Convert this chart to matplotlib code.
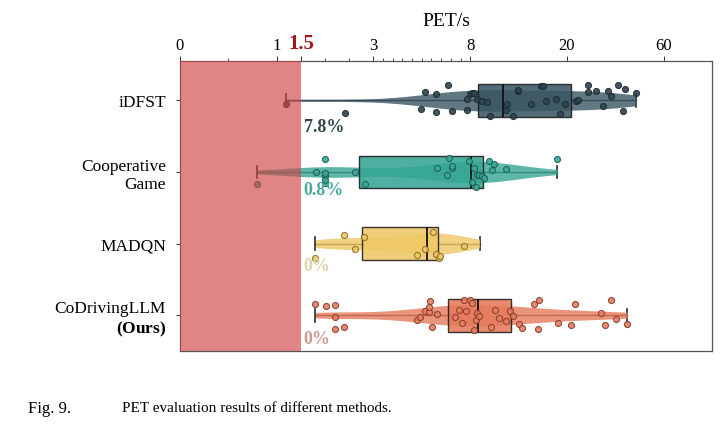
import numpy as np
import matplotlib.pyplot as plt
from matplotlib.ticker import FixedLocator

plt.rcParams['font.family'] = ['Liberation Serif', 'DejaVu Serif']
plt.rcParams['mathtext.fontset'] = 'custom'
plt.rcParams['mathtext.rm'] = 'Liberation Serif'
plt.rcParams['mathtext.bf'] = 'Liberation Serif:bold'

methods = ['iDFST', 'Cooperative\nGame', 'MADQN', 'CoDrivingLLM\n$\\mathbf{(Ours)}$']
pct_labels = ['7.8%', '0.8%', '0%', '0%']

# PET samples (s)
pet_idfst = [1.19, 2.42, 5.45, 5.66, 6.23, 6.23, 6.85, 7.06, 7.84, 7.84, 8.0, 8.25, 8.5,
             8.9, 9.5, 10.1, 10.5, 12.4, 12.6, 13.25, 13.9, 13.9, 15.5, 16.75, 17.0,
             17.4, 18.6, 19.1, 19.75, 23.75, 24.6, 28.75, 28.75, 32.1, 35.0, 37.1,
             38.3, 41.25, 43.3, 44.2, 48.75]
pet_coop = [0.80, 1.81, 2.0, 2.0, 2.0, 2.0, 2.0, 2.61, 2.82, 6.28, 6.8, 6.89, 7.06,
            7.06, 7.93, 8.25, 8.47, 8.66, 8.88, 9.08, 9.5, 9.71, 10.34, 10.66,
            10.96, 12.4, 18.8]
pet_madqn = [1.80, 2.40, 2.61, 2.81, 5.24, 5.67, 6.06, 6.23, 6.37, 6.45, 7.67]
pet_ours = [1.80, 2.02, 2.21, 2.21, 2.21, 2.40, 5.24, 5.41, 5.67, 5.85, 5.85, 5.93,
            6.02, 6.28, 7.23, 7.41, 7.58, 7.67, 7.76, 8.03, 8.25, 8.47, 8.66, 8.88,
            9.09, 10.53, 11.08, 11.59, 12.42, 12.97, 13.25, 14.09, 14.41, 15.97,
            16.38, 16.59, 18.88, 21.8, 23.2, 34.3, 35.7, 38.2, 40.3, 45.0]
samples = [pet_idfst, pet_coop, pet_madqn, pet_ours]

# box statistics
q1s = [9.0, 2.71, 2.76, 6.85]
meds = [12.1, 8.07, 5.76, 8.96]
q3s = [21.7, 9.59, 6.32, 13.04]
los = [1.19, 0.80, 1.80, 1.80]
his = [48.75, 18.8, 9.16, 45.0]

threshold = 1.5

box_colors = ['#3a5663', '#35a593', '#eec766', '#e77a5b']
point_face = ['#2e444f', '#3aa898', '#eec766', '#e57f60']
point_edge = ['#1d2b32', '#1c5e55', '#8d6d22', '#8a3b2b']
pct_colors = ['#2f4650', '#4aa99b', '#ddd6a8', '#c99a96']

# piecewise axis: 0,1,3,8,20,60 equally spaced
breaks = np.array([0, 1, 3, 8, 20, 60, 100], dtype=float)
steps = np.arange(len(breaks), dtype=float)


def fwd(x):
    return np.interp(x, breaks, steps)


def inv(t):
    return np.interp(t, steps, breaks)


fig = plt.figure(figsize=(7.23, 4.39), dpi=100)
ax = fig.add_axes([180 / 723, 1 - 352 / 439, 532 / 723, 290 / 439])
ax.set_xscale('function', functions=(fwd, inv))

pos = np.arange(len(methods))
stats = []
for i in range(len(methods)):
    stats.append(dict(med=meds[i], q1=q1s[i], q3=q3s[i], whislo=los[i], whishi=his[i], fliers=[]))

bp = ax.bxp(stats, positions=pos, orientation='horizontal', widths=0.46, patch_artist=True,
            showfliers=False, capwidths=0.18)
for i, b in enumerate(bp['boxes']):
    b.set_facecolor(box_colors[i])
    b.set_alpha(0.88)
    b.set_edgecolor('#1a1a1a')
    b.set_linewidth(1.0)
    b.set_zorder(3)
for w in bp['whiskers']:
    w.set_color('#2a2a2a')
    w.set_linewidth(1.0)
    w.set_zorder(1)
for c in bp['caps']:
    c.set_color('#2a2a2a')
    c.set_linewidth(1.2)
    c.set_zorder(1)
for m in bp['medians']:
    m.set_color('#111111')
    m.set_linewidth(1.3)
    m.set_zorder(3.5)

# violins computed in the axis space
for i, vals in enumerate(samples):
    t = fwd(np.array(vals))
    grid = np.linspace(fwd(los[i]), fwd(his[i]), 300)
    bw = 1.06 * t.std() * len(t) ** (-0.2)
    dens = np.exp(-0.5 * ((grid[:, None] - t[None, :]) / bw) ** 2).sum(axis=1)
    dens = dens / dens.max() * 0.15
    ax.fill_between(inv(grid), i - dens, i + dens, color=box_colors[i], alpha=0.8,
                    lw=0, zorder=2)

# jittered points
rng = np.random.default_rng(7)
for i, vals in enumerate(samples):
    jit = rng.uniform(-0.22, 0.22, len(vals))
    ax.scatter(vals, i + jit, s=19, facecolor=point_face[i], edgecolor=point_edge[i],
               linewidth=0.8, alpha=0.9, zorder=4)

ax.axvspan(0, threshold, color='#d04444', alpha=0.65, lw=0, zorder=5)

pct_dy = [0.37, 0.25, 0.3, 0.32]
for i, lab in enumerate(pct_labels):
    ax.text(1.56, i + pct_dy[i], lab, ha='left', va='center', fontsize=13,
            fontweight='bold', color=pct_colors[i], zorder=6)

ax.set_xlim(0, 80)
ax.set_ylim(3.5, -0.55)
ax.xaxis.tick_top()
ax.xaxis.set_label_position('top')
ax.xaxis.set_major_locator(FixedLocator([0, 1, 1.5, 3, 8, 20, 60]))
ax.xaxis.set_minor_locator(FixedLocator([0.5, 2, 2.5] + list(np.arange(3.5, 8, 0.5))))
ax.set_xticklabels(['0', '1', '1.5', '3', '8', '20', '60'])
ax.tick_params(axis='x', which='major', length=3.5, width=0.7, pad=2, colors='#333333',
               labelcolor='black', labelsize=12)
ax.tick_params(axis='x', which='minor', length=2.5, width=0.6, colors='#333333')
for lab in ax.get_xticklabels():
    if lab.get_text() == '1.5':
        lab.set_fontsize(15)
        lab.set_fontweight('bold')
        lab.set_color('#a3161c')
ax.set_xlabel('PET/s', fontsize=14, labelpad=6)

ax.set_yticks(pos)
ax.set_yticklabels(methods, fontsize=12.5)
ax.tick_params(axis='y', length=3, width=0.7, pad=7, colors='#333333', labelcolor='black')

for sp in ax.spines.values():
    sp.set_color('#555555')
    sp.set_linewidth(0.9)

fig.text(28 / 723, 1 - 409 / 439, 'Fig. 9.', fontsize=12, va='center', ha='left')
fig.text(122 / 723, 1 - 409 / 439, 'PET evaluation results of different methods.',
         fontsize=11, va='center', ha='left')

fig.savefig('out.png', dpi=100)
